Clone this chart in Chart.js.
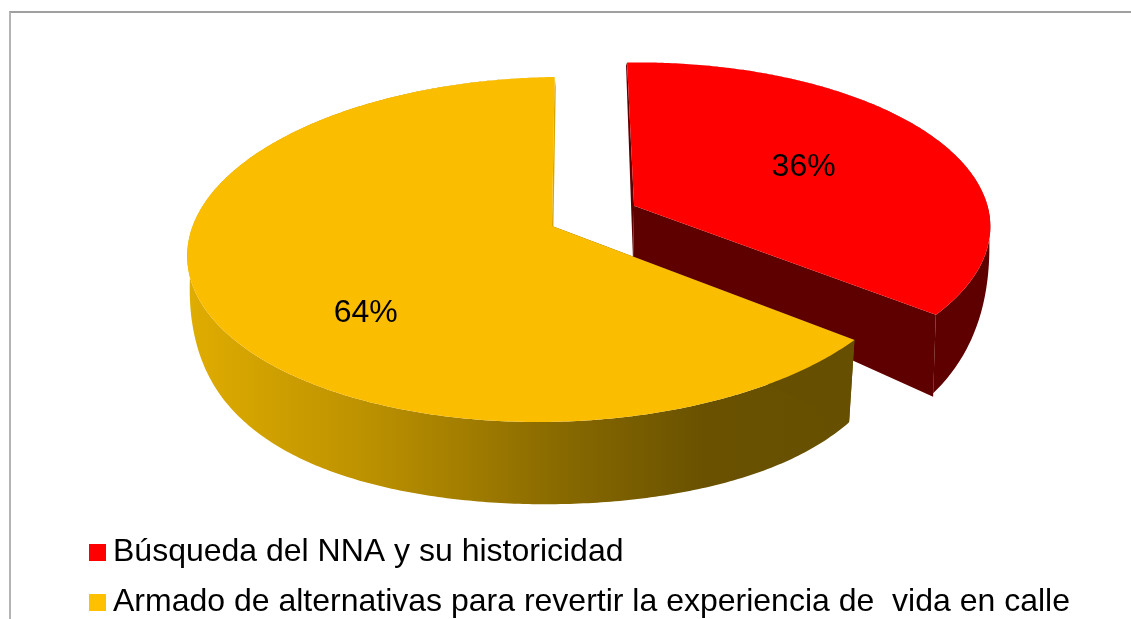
<!DOCTYPE html>
<html>
<head>
<meta charset="utf-8">
<style>
html,body{margin:0;padding:0;background:#fff;overflow:hidden}
#frame{position:absolute;left:9px;top:11px;width:1122px;height:608px;border-top:2px solid #a0a0a0;border-left:2px solid #b4b4b4;box-sizing:border-box}
canvas{position:absolute;left:0;top:0}
</style>
<script src="https://cdn.jsdelivr.net/npm/chart.js@4/dist/chart.umd.min.js"></script>
</head>
<body>
<div id="frame"></div>
<canvas id="c" width="1131" height="619"></canvas>
<script>
const categories = ['Búsqueda del NNA y su historicidad', 'Armado de alternativas para revertir la experiencia de  vida en calle'];
const seriesValues = [36, 64];

const topColors = ['#FE0000', '#FBBD00'];
const legendColors = ['#FF0000', '#FFC000'];
const FONT = '"Liberation Sans", Arial, sans-serif';

// projection of the tilted disc onto the screen
const TOP = {cx: 574, cy: 226, a: 361, b: 169.3, k: -0.136, skew: -5};
const LOW = {cx: 571, a: 358, cy: 285, b: 207.8, k: -0.136, ky: -0.05, skew: 0};
const RIM = {cx: 571, a: 358, cy: 235, b: 350, k: -0.136, ky: 0.3, skew: 0};
const U0 = 0.061;
const explode = [[0.23, -0.114], [0, 0]];
const topRadius = [0.99, 1];
const lowerLean = [-2.5, -4];
const labelShift = [[1.5, 0.5], [0, 44]];

function proj(P, u, v) {
  const d = 1 + P.k * v;
  const dy = 1 + (P.ky === undefined ? P.k : P.ky) * v;
  return [P.cx + P.a * (u - U0) / d, P.cy + (P.b * v + P.skew * u) / dy];
}
function upper(i, r, ang) {
  const R = r * topRadius[i];
  return proj(TOP, R * Math.cos(ang) + explode[i][0], R * Math.sin(ang) + explode[i][1]);
}
function lower(i, r, ang, P) {
  const v = r * Math.sin(ang) + explode[i][1];
  const p = proj(P || LOW, r * Math.cos(ang) + explode[i][0], v);
  p[0] -= lowerLean[i] * Math.max(0, Math.min(1, (0.523 - v) / 0.637));
  return p;
}
function rimLower(i, ang) {
  const p = lower(i, 1, ang, RIM);
  p[1] = Math.max(p[1], upper(i, 1, ang)[1]);
  return p;
}
function sample(s, e) {
  const n = Math.max(4, Math.round((e - s) * 90)), out = [];
  for (let j = 0; j <= n; j++) out.push(s + (e - s) * j / n);
  return out;
}
function poly(ctx, pts, fill) {
  ctx.beginPath();
  pts.forEach((p, j) => j ? ctx.lineTo(p[0], p[1]) : ctx.moveTo(p[0], p[1]));
  ctx.closePath();
  ctx.fillStyle = fill;
  ctx.fill();
}

const pie3d = {
  id: 'pie3d',
  beforeDatasetsDraw(chart) {
    const ctx = chart.ctx;
    const arcs = chart.getDatasetMeta(0).data;
    const total = seriesValues.reduce((a, b) => a + b, 0);
    ctx.save();
    arcs.forEach((arc, i) => {
      const s = arc.startAngle, e = arc.endAngle, angs = sample(s, e);
      let wallFill, innerEnd, innerStart;
      if (i === 0) {
        wallFill = '#5F0000'; innerEnd = '#5F0000'; innerStart = '#5F0000';
      } else {
        const g = ctx.createLinearGradient(190, 0, 850, 0);
        g.addColorStop(0, '#DFAC00');
        g.addColorStop(0.27, '#BC9100');
        g.addColorStop(0.55, '#8A6B00');
        g.addColorStop(0.78, '#695100');
        g.addColorStop(1, '#665000');
        wallFill = g; innerEnd = '#D9A600'; innerStart = '#665000';
      }
      // outer wall
      const rim = angs.map(a => upper(i, 1, a)).concat(angs.slice().reverse().map(a => rimLower(i, a)));
      poly(ctx, rim, wallFill);
      // inner cut faces
      poly(ctx, [upper(i, 0, s), upper(i, 1, s), lower(i, 1, s), lower(i, 0, s)], innerStart);
      poly(ctx, [upper(i, 0, e), upper(i, 1, e), lower(i, 1, e), lower(i, 0, e)], innerEnd);
      // top face
      poly(ctx, [upper(i, 0, s)].concat(angs.map(a => upper(i, 1, a))), topColors[i]);
    });
    // percentage labels
    ctx.fillStyle = '#000';
    ctx.font = '32px ' + FONT;
    ctx.textAlign = 'center';
    ctx.textBaseline = 'middle';
    arcs.forEach((arc, i) => {
      const mid = (arc.startAngle + arc.endAngle) / 2;
      const p = upper(i, 0.55, mid);
      const txt = Math.round(seriesValues[i] / total * 100) + '%';
      ctx.fillText(txt, p[0] + labelShift[i][0], p[1] + labelShift[i][1]);
    });
    ctx.restore();
    return false;
  }
};

function swatch(color) {
  const c = document.createElement('canvas');
  c.width = 19; c.height = 17;
  const x = c.getContext('2d');
  x.fillStyle = color;
  x.fillRect(2, 0, 17, 17);
  return c;
}

new Chart(document.getElementById('c'), {
  type: 'pie',
  plugins: [pie3d],
  data: {
    labels: categories,
    datasets: [{data: seriesValues, backgroundColor: topColors, borderWidth: 0}]
  },
  options: {
    responsive: false,
    animation: false,
    layout: {padding: {left: 78, bottom: -9, right: 0, top: 0}},
    plugins: {
      tooltip: {enabled: false},
      legend: {
        position: 'bottom',
        align: 'start',
        labels: {
          font: {family: FONT, size: 32},
          color: '#000',
          padding: 18,
          usePointStyle: true,
          pointStyleWidth: 1,
          generateLabels: () => categories.map((t, i) => ({
            text: t, pointStyle: swatch(legendColors[i]), fillStyle: legendColors[i],
            strokeStyle: legendColors[i], lineWidth: 0, hidden: false, index: i
          }))
        }
      }
    }
  }
});
</script>
</body>
</html>
